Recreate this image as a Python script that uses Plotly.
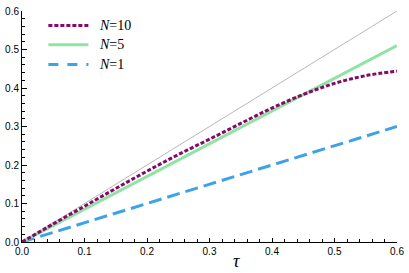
import plotly.graph_objects as go

# ---- data ----
tau = [0, 0.05, 0.1, 0.15, 0.2, 0.25, 0.3, 0.35, 0.4, 0.45, 0.5, 0.55, 0.6]
n10 = [0, 0.047, 0.093, 0.139, 0.184, 0.227, 0.267, 0.308, 0.348, 0.383, 0.412, 0.432, 0.444]
tau_lin = [0, 0.6]
n5 = [0, 0.51]
n1 = [0, 0.30]
diag = [0, 0.6]

series_names = ["<i>N</i>=10", "<i>N</i>=5", "<i>N</i>=1"]
x_tickvals = [0, 0.1, 0.2, 0.3, 0.4, 0.5, 0.6]
x_ticktext = ["0.0", "0.1", "0.2", "0.3", "0.4", "0.5", "0.6"]
y_tickvals = [0, 0.1, 0.2, 0.3, 0.4, 0.5, 0.6]
y_ticktext = ["0.0", "0.1", "0.2", "0.3", "0.4", "0.5", "0.6"]

PURPLE = "#850a68"
GREEN = "#8fe3a3"
BLUE = "#3fa2e8"
GRAY = "#b0b0b0"

fig = go.Figure()
fig.add_trace(go.Scatter(x=tau_lin, y=diag, mode="lines",
                         line=dict(color=GRAY, width=0.9), showlegend=False, hoverinfo="skip"))
fig.add_trace(go.Scatter(x=tau_lin, y=n1, mode="lines", name=series_names[2],
                         line=dict(color=BLUE, width=3, dash="13px,6px"), showlegend=False))
fig.add_trace(go.Scatter(x=tau_lin, y=n5, mode="lines", name=series_names[1],
                         line=dict(color=GREEN, width=3), showlegend=False))
fig.add_trace(go.Scatter(x=tau, y=n10, mode="lines", name=series_names[0],
                         line=dict(color=PURPLE, width=3, dash="4px,2px", shape="spline"),
                         showlegend=False))

W, H = 409, 273
ml, mr, mt, mb = 18, 7, 5, 31
pw, ph = W - ml - mr, H - mt - mb

def px2paper_x(px):
    return (px - ml) / pw

def px2paper_y(py):
    return (H - mb - py) / ph

# manual legend (Mathematica style)
legend_rows = [(20, PURPLE, "4px,2px"), (39.5, GREEN, "solid"), (60, BLUE, "10px,9px")]
shapes = []
annotations = []
for (py, col, dash), name in zip(legend_rows, series_names):
    shapes.append(dict(type="line", xref="paper", yref="paper",
                       x0=px2paper_x(45), x1=px2paper_x(86),
                       y0=px2paper_y(py), y1=px2paper_y(py),
                       line=dict(color=col, width=3, dash=dash)))
    annotations.append(dict(xref="paper", yref="paper", x=px2paper_x(95), y=px2paper_y(py),
                            xanchor="left", yanchor="middle", showarrow=False,
                            text=name, font=dict(family="Liberation Serif", size=14, color="#000")))

annotations.append(dict(xref="x", yref="paper", x=0.343, y=px2paper_y(261),
                        xanchor="center", yanchor="middle", showarrow=False,
                        text="<i>τ</i>", font=dict(family="Liberation Serif", size=18, color="#000")))

axis_common = dict(showgrid=False, zeroline=False, showline=True, linecolor="#000", linewidth=1,
                   ticks="inside", tickcolor="#000", tickwidth=1, ticklen=5,
                   ticklabeloverflow="allow",
                   tickfont=dict(family="Liberation Sans", size=10, color="#000"),
                   minor=dict(ticks="inside", dtick=0.02, ticklen=3, tickcolor="#000", tickwidth=1,
                              showgrid=False))

fig.update_layout(
    width=W, height=H,
    margin=dict(l=ml, r=mr, t=mt, b=mb, pad=0),
    paper_bgcolor="white", plot_bgcolor="white",
    xaxis=dict(range=[0, 0.6], tickvals=x_tickvals, ticktext=x_ticktext, **axis_common),
    yaxis=dict(range=[0, 0.6], tickvals=y_tickvals, ticktext=y_ticktext, **axis_common),
    shapes=shapes, annotations=annotations,
)
fig.update_xaxes(ticklen=4)

fig.write_html("out.html", config={"displayModeBar": False},
               post_script="document.body.style.margin='0';document.body.style.overflow='hidden';")
